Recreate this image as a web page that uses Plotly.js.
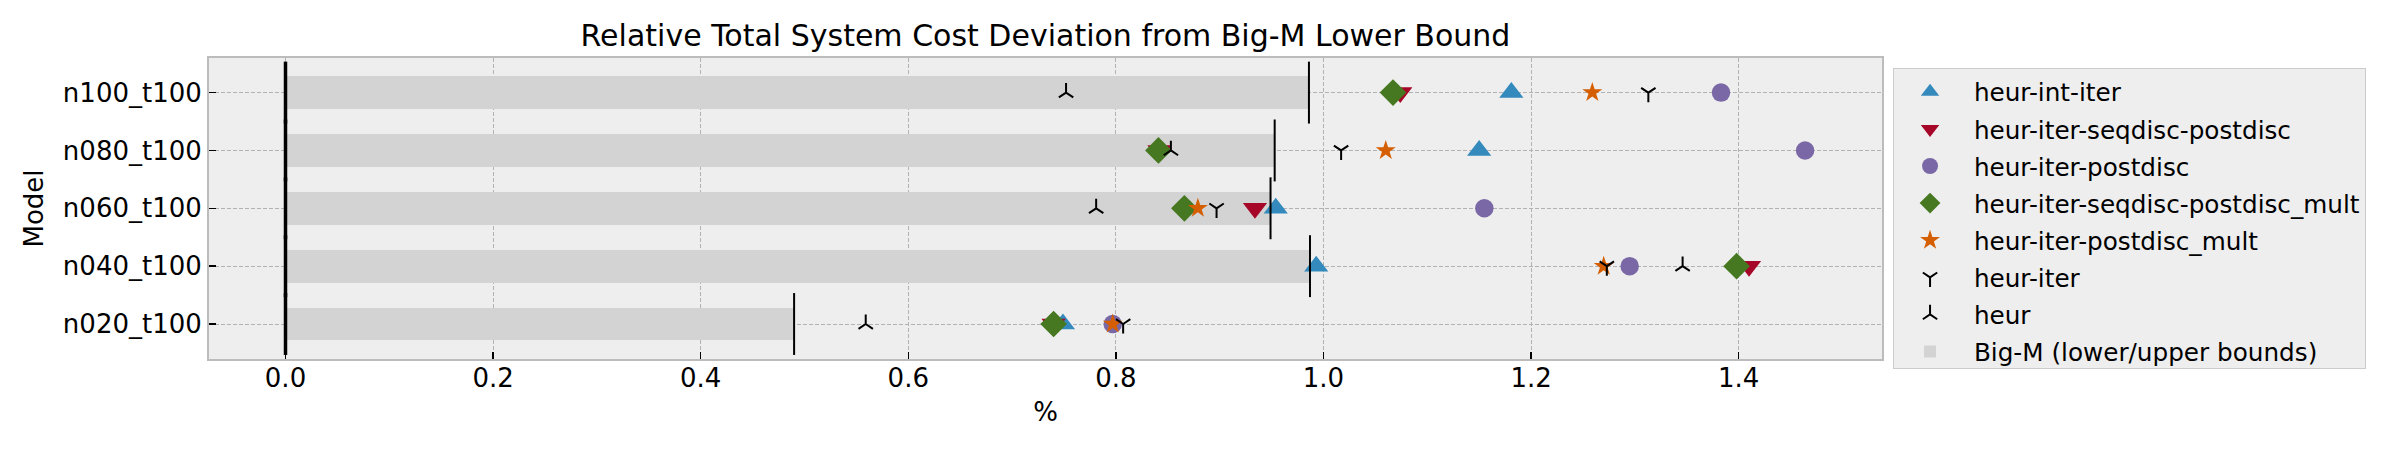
<!DOCTYPE html>
<html>
<head>
<meta charset="utf-8">
<script src="https://cdn.plot.ly/plotly-3.0.1.min.js"></script>
<style>
  html, body { margin: 0; padding: 0; background: #ffffff; }
  #chart { width: 2400px; height: 450px; }
</style>
</head>
<body>
<div id="chart"></div>
<script>
// Models, bottom row first
const models = ['n020_t100', 'n040_t100', 'n060_t100', 'n080_t100', 'n100_t100'];

// Relative deviation (%) from the Big-M lower bound, per heuristic
const heurIntIter                 = [0.749, 0.993, 0.954, 1.150, 1.181];
const heurIterSeqdiscPostdisc     = [0.740, 1.410, 0.934, 0.842, 1.074];
const heurIterPostdisc            = [0.797, 1.295, 1.155, 1.464, 1.383];
const heurIterSeqdiscPostdiscMult = [0.740, 1.398, 0.866, 0.841, 1.067];
const heurIterPostdiscMult        = [0.797, 1.270, 0.879, 1.060, 1.259];
const heurIter                    = [0.807, 1.273, 0.897, 1.017, 1.313];
const heur                        = [0.559, 1.346, 0.781, 0.853, 0.752];

// Big-M bounds
const bigmLower = [0, 0, 0, 0, 0];
const bigmUpper = [0.490, 0.987, 0.949, 0.953, 0.986];

const xTicks = [0, 0.2, 0.4, 0.6, 0.8, 1.0, 1.2, 1.4];

const rows = models.map((_, i) => i);
const FONT = 'DejaVu Sans, sans-serif';
const PAD = '\u00a0'; // small gap between legend symbol and label

function markerTrace(name, values, symbol, color, size, group) {
  const isLine = symbol.indexOf('y-') === 0;
  return {
    type: 'scatter', mode: 'markers', name: PAD + name,
    x: values, y: rows, legendgroup: group,
    marker: isLine
      ? { symbol: symbol, size: size, color: color, line: { color: color, width: 2 } }
      : { symbol: symbol, size: size, color: color, line: { width: 0 } },
    hoverinfo: 'x+name'
  };
}

// vertical tick lines marking each bound, centred on its row
const HALF = 0.535;
function boundLines(values, width) {
  const xs = [], ys = [];
  values.forEach((v, i) => {
    xs.push(v, v, null);
    ys.push(rows[i] - HALF, rows[i] + HALF, null);
  });
  return {
    type: 'scatter', mode: 'lines', x: xs, y: ys,
    line: { color: '#000000', width: width },
    showlegend: false, hoverinfo: 'skip'
  };
}

const data = [
  markerTrace('heur-int-iter', heurIntIter, 'triangle-up', '#348ABD', 21, 'g1'),
  markerTrace('heur-iter-seqdisc-postdisc', heurIterSeqdiscPostdisc, 'triangle-down', '#A60628', 21, 'g2'),
  markerTrace('heur-iter-postdisc', heurIterPostdisc, 'circle', '#7A68A6', 18.5, 'g3'),
  markerTrace('heur-iter-seqdisc-postdisc_mult', heurIterSeqdiscPostdiscMult, 'diamond', '#467821', 20.5, 'g4'),
  markerTrace('heur-iter-postdisc_mult', heurIterPostdiscMult, 'star', '#D55E00', 15, 'g5'),
  markerTrace('heur-iter', heurIter, 'y-down', '#000000', 12, 'g6'),
  markerTrace('heur', heur, 'y-up', '#000000', 12, 'g7'),
  {
    type: 'bar', orientation: 'h', name: PAD + 'Big-M (lower/upper bounds)',
    y: rows, base: bigmLower,
    x: bigmUpper.map((u, i) => u - bigmLower[i]),
    width: 0.57, marker: { color: '#d3d3d3', line: { width: 0 } },
    legendgroup: 'g8', hoverinfo: 'skip'
  },
  boundLines(bigmUpper, 2),
  boundLines(bigmLower, 3.5)
];

const axisCommon = {
  showgrid: true, gridcolor: '#b2b2b2', gridwidth: 1, griddash: '4px,2px',
  showline: true, mirror: true, linecolor: '#bcbcbc', linewidth: 2,
  zeroline: false, ticks: 'inside', ticklen: 7, tickwidth: 1.5, tickcolor: '#000000',
  tickfont: { family: FONT, size: 26, color: '#000000' }
};

const layout = {
  width: 2400, height: 450,
  margin: { l: 209, r: 518, t: 58, b: 91, pad: 0 },
  paper_bgcolor: '#ffffff', plot_bgcolor: '#eeeeee',
  font: { family: FONT, size: 26, color: '#000000' },
  showlegend: true,
  title: {
    text: 'Relative Total System Cost Deviation from Big-M Lower Bound',
    font: { family: FONT, size: 30, color: '#000000' },
    xref: 'paper', x: 0.5, xanchor: 'center',
    yref: 'container', y: 0.922, yanchor: 'middle'
  },
  xaxis: Object.assign({}, axisCommon, {
    range: [-0.0737, 1.5381], tickvals: xTicks, tickformat: '.1f',
    ticklabelstandoff: -5,
    title: { text: '%', font: { family: FONT, size: 26 }, standoff: 11 }
  }),
  yaxis: Object.assign({}, axisCommon, {
    range: [-0.605, 4.598], tickvals: rows, ticktext: models,
    title: { text: 'Model', font: { family: FONT, size: 26 }, standoff: 11.5 }
  }),
  legend: {
    x: 1.0066, xanchor: 'left', y: 0.966, yanchor: 'top',
    bgcolor: '#eeeeee', bordercolor: '#cccccc', borderwidth: 1,
    font: { family: FONT, size: 24.7, color: '#000000' },
    tracegroupgap: 2, itemwidth: 62
  },
  bargap: 0
};

Plotly.newPlot('chart', data, layout, { displayModeBar: false, staticPlot: true });
</script>
</body>
</html>
